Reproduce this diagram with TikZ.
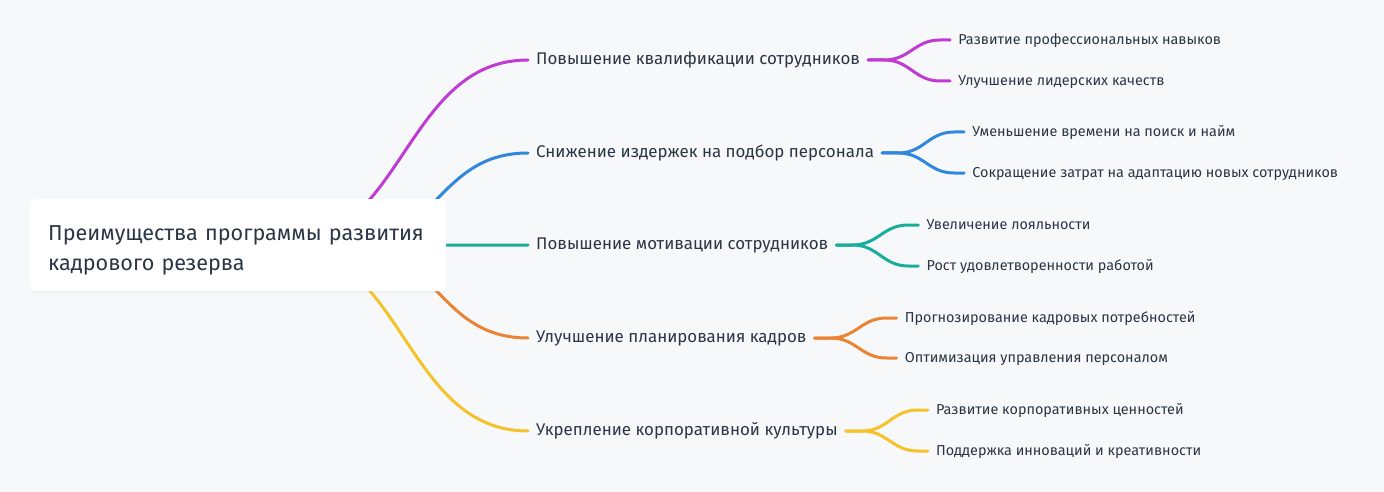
\documentclass[tikz,border=0pt]{standalone}
\usepackage{fontspec}
\setmainfont{Fira Sans}
\usetikzlibrary{positioning,calc,shadows}
\definecolor{paper}{HTML}{F7F8FA}
\definecolor{ink}{HTML}{2B3645}
\definecolor{cMag}{HTML}{C03AD4}
\definecolor{cBlue}{HTML}{2F88DB}
\definecolor{cTeal}{HTML}{19AE9C}
\definecolor{cOrange}{HTML}{EA8434}
\definecolor{cYellow}{HTML}{F5C22A}
\pgfdeclarelayer{paperlayer}
\pgfdeclarelayer{linklayer}
\pgfsetlayers{paperlayer,linklayer,main}

\begin{document}
\begin{tikzpicture}[x=1pt, y=-1pt,
		rootbox/.style={fill=white, rounded corners=4pt, anchor=north west,
			minimum width=416pt, minimum height=92pt, inner xsep=18pt,
			text width=380pt, align=left, text=ink,
			font=\fontsize{21.6}{30}\selectfont,
			drop shadow={opacity=0.05, shadow xshift=0pt, shadow yshift=-2pt}},
		branch/.style={anchor=west, text=ink, inner xsep=8pt, inner ysep=0pt,
			text height=0.9em, text depth=0pt,
			font=\fontsize{16.9}{19}\selectfont},
		leaf/.style={text=ink, inner xsep=8pt, inner ysep=0pt,
			text height=0.9em, text depth=0pt,
			font=\fontsize{14.4}{16}\selectfont},
		link/.style={draw=#1, line width=3pt, line cap=round}
		]
		\useasboundingbox (0,0) rectangle (1384,492);
		\begin{pgfonlayer}{paperlayer}
			\fill[paper] (0,0) rectangle (1384,492);
		\end{pgfonlayer}
		
		% ── Root ──
		\node[rootbox] (root) at (30,199) {\rule{0pt}{26pt}Преимущества программы развития\\кадрового резерва};
		\coordinate (hubA) at (280,245);
		\coordinate (hubB) at (346,245);
		
		% ── Main branches ──
		\node[branch] (qual) at (528,60) {Повышение квалификации сотрудников};
		\node[branch] (cost) at (528,153) {Снижение издержек на подбор персонала};
		\node[branch] (motiv) at (528,245) {Повышение мотивации сотрудников};
		\node[branch] (plan) at (528,338) {Улучшение планирования кадров};
		\node[branch] (cult) at (528,431) {Укрепление корпоративной культуры};
		
		% ── Leaves ──
		\node[leaf, right=82pt of qual, yshift=20pt] (skills) {Развитие профессиональных навыков};
		\node[leaf, right=82pt of qual, yshift=-21pt] (lead) {Улучшение лидерских качеств};
		\node[leaf, right=82pt of cost, yshift=21pt] (time) {Уменьшение времени на поиск и найм};
		\node[leaf, right=82pt of cost, yshift=-20pt] (adapt) {Сокращение затрат на адаптацию новых сотрудников};
		\node[leaf, right=82pt of motiv, yshift=20pt] (loyal) {Увеличение лояльности};
		\node[leaf, right=82pt of motiv, yshift=-21pt] (satis) {Рост удовлетворенности работой};
		\node[leaf, right=82pt of plan, yshift=20pt] (forecast) {Прогнозирование кадровых потребностей};
		\node[leaf, right=82pt of plan, yshift=-20pt] (optim) {Оптимизация управления персоналом};
		\node[leaf, right=82pt of cult, yshift=21pt] (values) {Развитие корпоративных ценностей};
		\node[leaf, right=82pt of cult, yshift=-20pt] (innov) {Поддержка инноваций и креативности};
		
		% Links from root (behind the box)
		\begin{pgfonlayer}{linklayer}
			\draw[link=cMag]    (hubA) .. controls +(124,0) and +(-124,0) .. (qual.west);
			\draw[link=cBlue]   (hubB) .. controls +(91,0) and +(-91,0) .. (cost.west);
			\draw[link=cTeal]   (root.east) -- (motiv.west);
			\draw[link=cOrange] (hubB) .. controls +(91,0) and +(-91,0) .. (plan.west);
			\draw[link=cYellow] (hubA) .. controls +(124,0) and +(-124,0) .. (cult.west);
		\end{pgfonlayer}
		
		% Links to leaves
		\foreach \from/\to/\col in {qual/skills/cMag, qual/lead/cMag,
			cost/time/cBlue, cost/adapt/cBlue, motiv/loyal/cTeal, motiv/satis/cTeal,
			plan/forecast/cOrange, plan/optim/cOrange, cult/values/cYellow, cult/innov/cYellow}
		\draw[link=\col] (\from.east) -- ++(16,0)
			.. controls +(26,0) and +(-26,0) .. ($(\to.west)+(-10,0)$) -- (\to.west);
	\end{tikzpicture}
\end{document}
